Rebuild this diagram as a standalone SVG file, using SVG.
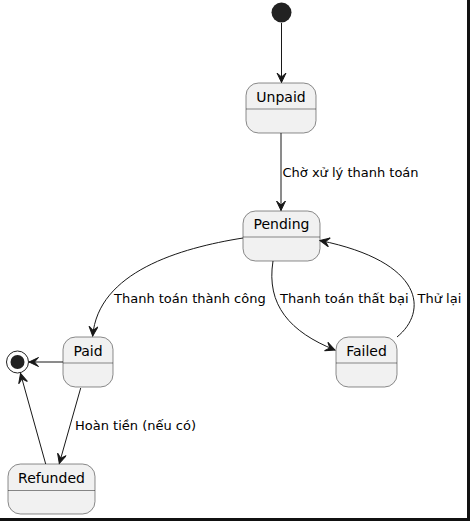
<svg xmlns="http://www.w3.org/2000/svg" width="470" height="521" viewBox="0 0 470 521">
<style>
.st rect{fill:#F1F1F1;stroke:#181818;stroke-width:0.5}
.st line{stroke:#181818;stroke-width:0.5}
.st text{font-family:"DejaVu Sans",sans-serif;font-size:14px;fill:#000;text-anchor:middle}
.e path,.e line{fill:none;stroke:#181818;stroke-width:1;marker-end:url(#ah)}
.lb{font-family:"DejaVu Sans",sans-serif;font-size:13px;fill:#000}
</style>
<defs>
<marker id="ah" markerUnits="userSpaceOnUse" markerWidth="12" markerHeight="12" refX="10" refY="5" orient="auto">
<path d="M10,5 L0.5,0.5 L4.5,5 L0.5,9.5 Z" fill="#181818" stroke="#181818" stroke-width="1"/>
</marker>
</defs>
<rect x="0" y="0" width="470" height="521" fill="#fff"/>
<rect x="467" y="0" width="3" height="521" fill="#111"/>
<rect x="0" y="518" width="470" height="3" fill="#111"/>
<g id="start"><circle cx="281.5" cy="12.5" r="10" fill="#222"/></g>
<g id="end"><circle cx="17.5" cy="362" r="11" fill="none" stroke="#222" stroke-width="1"/><circle cx="17.5" cy="362" r="7" fill="#222"/></g>
<g id="Unpaid" class="st"><rect x="246" y="83" width="70" height="50" rx="12.5"/><line x1="246" y1="109" x2="316" y2="109"/><text x="281" y="101.5">Unpaid</text></g>
<g id="Pending" class="st"><rect x="243" y="211" width="77" height="50" rx="12.5"/><line x1="243" y1="237" x2="320" y2="237"/><text x="281.5" y="229">Pending</text></g>
<g id="Paid" class="st"><rect x="63" y="337" width="50" height="50" rx="12.5"/><line x1="63" y1="363" x2="113" y2="363"/><text x="88" y="355.5">Paid</text></g>
<g id="Failed" class="st"><rect x="336" y="337" width="61" height="50" rx="12.5"/><line x1="336" y1="363" x2="397" y2="363"/><text x="366.5" y="355.5">Failed</text></g>
<g id="Refunded" class="st"><rect x="8" y="464" width="87" height="50" rx="12.5"/><line x1="8" y1="490.5" x2="95" y2="490.5"/><text x="51.5" y="482.5">Refunded</text></g>
<g id="connectors" class="e">
<line x1="281.5" y1="23" x2="281.5" y2="82.5"/>
<line x1="281" y1="133" x2="281" y2="210.5"/>
<path d="M243,238 C180,248 98,272 92.7,336"/>
<path d="M273,261 C266,305 290,332 335,350"/>
<path d="M397,337 C428,312 425,262 320,240.5"/>
<line x1="63" y1="362" x2="29" y2="362"/>
<line x1="80.7" y1="388" x2="59.3" y2="463.5"/>
<line x1="45.7" y1="464" x2="20.5" y2="373.5"/>
</g>
<g id="labels">
<text class="lb" x="282.5" y="176.5">Chờ xử lý thanh toán</text>
<text class="lb" x="114" y="303">Thanh toán thành công</text>
<text class="lb" x="280" y="303">Thanh toán thất bại</text>
<text class="lb" x="417.5" y="303">Thử lại</text>
<text class="lb" x="75" y="430">Hoàn tiền (nếu có)</text>
</g>
</svg>
